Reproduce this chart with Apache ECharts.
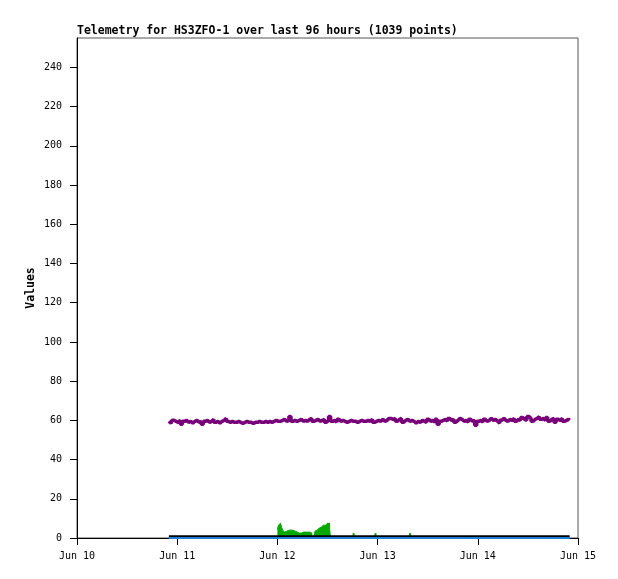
<!DOCTYPE html>
<html>
<head>
<meta charset="utf-8">
<title>Telemetry HS3ZFO-1</title>
<script src="https://cdn.jsdelivr.net/npm/echarts@6/dist/echarts.min.js"></script>
<style>
  html, body { margin: 0; padding: 0; background: #fff; }
  #chart { width: 618px; height: 579px; }
</style>
</head>
<body>
<div id="chart"></div>
<script>
// x values are hours since Jun 10 00:00
var dayTicks = [0, 24, 48, 72, 96, 120];
var dayLabels = ['Jun 10', 'Jun 11', 'Jun 12', 'Jun 13', 'Jun 14', 'Jun 15'];
var yTicks = [0, 20, 40, 60, 80, 100, 120, 140, 160, 180, 200, 220, 240];

// purple channel, one value per half hour from 22h to 118h
var purpleStart = 22;
var purpleStep = 0.5;
var purpleValues = [
  59.5, 58.5, 60, 59.5, 59, 60, 58, 59.5, 60, 59, 59.5, 58.5,
  59.5, 60, 59, 59.5, 58, 59.5, 60, 59, 59.5, 60.5, 59, 59.5,
  58.5, 59.5, 60, 61, 59.5, 59, 59.5, 59, 59, 59.5, 59, 58.5,
  59, 59.5, 59, 59, 58.5, 59, 59, 59.5, 59, 59, 59.5, 59,
  59.5, 59, 59.5, 60, 59.5, 59.5, 60, 60.5, 59.5, 60, 62, 59.5,
  60, 59.5, 60, 60.5, 59.5, 60, 59.5, 60.5, 61, 59.5, 60, 60.5,
  59.5, 60, 60.5, 59, 60, 62, 59.5, 60, 59, 60.5, 59.5, 60,
  59.5, 59, 59.5, 60, 59.5, 59.5, 59, 59.5, 60, 59.5, 59.5, 60,
  59.5, 60.5, 59, 59.5, 60, 59.5, 60.5, 59.5, 60, 61, 61, 60.5,
  61, 59.5, 60.5, 61, 59, 60, 60.5, 59.5, 60, 59.5, 58.5, 59.5,
  59, 60, 59.5, 59, 60.5, 59.5, 60, 59, 60.5, 58, 59.5, 60,
  60.5, 59.5, 61, 60, 60.5, 59, 60, 61, 60.5, 59.5, 60, 59,
  60.5, 59.5, 60, 57.5, 59.5, 60, 59, 60.5, 59.5, 60, 61, 60,
  60.5, 59.5, 58.5, 60, 61, 60, 59.5, 60.5, 60, 61, 59.5, 60.5,
  60, 61.5, 60.5, 60, 62, 61, 59.5, 60.5, 61, 62, 60.5, 61,
  60, 61.5, 59.5, 60.5, 61, 59, 60.5, 60, 61, 59.5, 60, 60.5,
  60
];

// green channel, one value per quarter hour from 48h to 60.5h
var greenStart = 48;
var greenStep = 0.25;
var greenValues = [
  4.5, 6.5, 7.5, 7, 5.5, 4, 3, 3, 3.5, 3.5, 4, 4,
  4, 4, 4, 3.5, 3.5, 3.5, 3, 3, 2.5, 2.5, 2.5, 2,
  3, 3, 3, 2, 3, 3, 3, 3, 2.5, 0, 0, 0,
  3.5, 4, 4.5, 5, 5.5, 5.5, 6, 6.5, 6, 6.5, 7, 7.5,
  8, 7.5, 4.5, 0
];
// isolated green readings later on
var greenExtraHours = [66.25, 71.5, 79.75];
var greenExtraValues = [2.5, 2.5, 2.5];

// flat channels
var flatHours = [22, 118];
var blackValues = [0.9, 0.9];
var blueValues = [0, 0];

function pairs(start, step, vals) {
  var out = [];
  for (var i = 0; i < vals.length; i++) {
    out.push([start + i * step, vals[i]]);
  }
  return out;
}
function zip(xs, ys) {
  var out = [];
  for (var i = 0; i < xs.length; i++) out.push([xs[i], ys[i]]);
  return out;
}

var font = 'DejaVu Sans Mono';
var myChart = echarts.init(document.getElementById('chart'));
var option = {
  animation: false,
  backgroundColor: '#fff',
  title: {
    text: 'Telemetry for HS3ZFO-1 over last 96 hours (1039 points)',
    left: 72,
    top: 20,
    textStyle: { fontFamily: font, fontSize: 11.5, fontWeight: 'bold', color: '#000' }
  },
  grid: {
    left: 77, right: 40, top: 38, bottom: 41,
    show: true, borderColor: '#555', borderWidth: 1, backgroundColor: 'transparent'
  },
  xAxis: {
    type: 'value',
    min: 0, max: 120, interval: 24,
    axisLine: { show: true, onZero: false, lineStyle: { color: '#000', width: 1 } },
    axisTick: { show: true, length: 7, customValues: dayTicks, lineStyle: { color: '#000' } },
    axisLabel: {
      customValues: dayTicks,
      margin: 13,
      fontFamily: font, fontSize: 10, color: '#000',
      formatter: function (v) { return dayLabels[dayTicks.indexOf(v)] || ''; }
    },
    splitLine: { show: false }
  },
  yAxis: {
    type: 'value',
    min: 0, max: 255, interval: 20,
    name: 'Values',
    nameLocation: 'middle',
    nameGap: 40,
    nameMoveOverlap: false,
    nameTextStyle: { fontFamily: font, fontSize: 11.5, fontWeight: 'bold', color: '#000' },
    axisLine: { show: true, lineStyle: { color: '#000', width: 1 } },
    axisTick: { show: true, length: 7, customValues: yTicks, lineStyle: { color: '#000' } },
    axisLabel: {
      customValues: yTicks,
      margin: 15,
      fontFamily: font, fontSize: 10, color: '#000'
    },
    splitLine: { show: false }
  },
  series: [
    {
      name: 'green',
      type: 'line',
      data: pairs(greenStart, greenStep, greenValues),
      step: 'end',
      showSymbol: false,
      lineStyle: { color: '#00a800', width: 1 },
      areaStyle: { color: '#00a800', opacity: 1 },
      z: 2
    },
    {
      name: 'green extra',
      type: 'bar',
      data: zip(greenExtraHours, greenExtraValues),
      barWidth: 2,
      itemStyle: { color: '#00a800' },
      z: 2
    },
    {
      name: 'purple',
      type: 'line',
      data: pairs(purpleStart, purpleStep, purpleValues),
      step: 'middle',
      showSymbol: false,
      lineStyle: { color: '#780078', width: 3.5 },
      z: 3
    },
    {
      name: 'black',
      type: 'line',
      data: zip(flatHours, blackValues),
      showSymbol: false,
      clip: false,
      lineStyle: { color: '#000', width: 2 },
      z: 4
    },
    {
      name: 'blue',
      type: 'line',
      data: zip(flatHours, blueValues),
      showSymbol: false,
      clip: false,
      lineStyle: { color: '#1c7fd6', width: 2 },
      z: 5
    }
  ]
};
myChart.setOption(option);
window.addEventListener('resize', function () {
  myChart.resize();
});
</script>
</body>
</html>
